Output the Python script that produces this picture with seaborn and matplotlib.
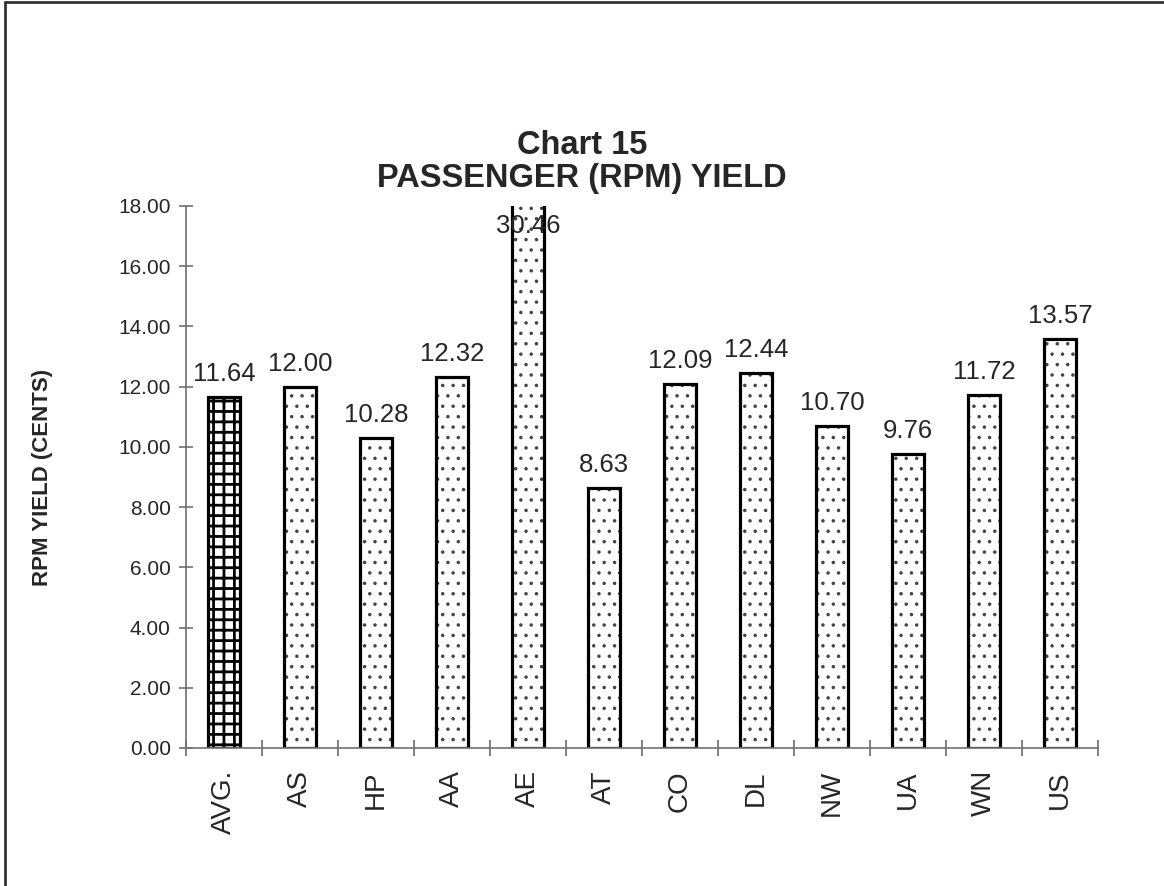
import numpy as np
import pandas as pd
import matplotlib
matplotlib.use('Agg')
import matplotlib.pyplot as plt
from matplotlib.lines import Line2D
import seaborn as sns

# chart data
carriers = ['AVG.', 'AS', 'HP', 'AA', 'AE', 'AT', 'CO', 'DL', 'NW', 'UA', 'WN', 'US']
yields = [11.64, 12.00, 10.28, 12.32, 30.46, 8.63, 12.09, 12.44, 10.70, 9.76, 11.72, 13.57]
y_ticks = [0, 2, 4, 6, 8, 10, 12, 14, 16, 18]

df = pd.DataFrame({'carrier': carriers, 'yield': yields})

# rendered at 125 dpi so the hatch spacing comes out close to the original;
# K converts sizes tuned for 100 dpi
DPI = 125
K = 100 / DPI

sns.set_style('white')
plt.rcParams['font.family'] = ['Liberation Sans', 'DejaVu Sans']
plt.rcParams['hatch.linewidth'] = 1.0 * K

fig = plt.figure(figsize=(1164 / DPI, 886 / DPI), dpi=DPI)
ax = fig.add_axes([0.1598, 0.1558, 0.7835, 0.6117])

# fill pattern layer (gray dots / grid), then black outline on top
sns.barplot(data=df, x='carrier', y='yield', color='white', edgecolor='#444444',
            linewidth=0, width=0.42, ax=ax, saturation=1)
for i, p in enumerate(ax.patches):
    if i == 0:
        p.set_hatch('++')
        p.set_edgecolor('black')
        if hasattr(p, 'set_hatch_linewidth'):
            p.set_hatch_linewidth(2.0 * K)
    else:
        p.set_hatch('..')
    p.set_facecolor('white')

sns.barplot(data=df, x='carrier', y='yield', fill=False, edgecolor='black',
            linewidth=2.3 * K, width=0.42, ax=ax)

ax.set_ylim(0, 18)
ax.set_xlim(-0.5, len(carriers) - 0.5)

# value labels
for i, v in enumerate(yields):
    if v > 18:
        ax.annotate(f'{v:.2f}', (i, 18), xytext=(0, -6 * K), textcoords='offset points',
                    ha='center', va='top', fontsize=18.5 * K)
    else:
        ax.annotate(f'{v:.2f}', (i, v), xytext=(0, 8 * K), textcoords='offset points',
                    ha='center', va='bottom', fontsize=18.5 * K)

# axes styling
for s in ['top', 'right']:
    ax.spines[s].set_visible(False)
for s in ['left', 'bottom']:
    ax.spines[s].set_color('#707070')
    ax.spines[s].set_linewidth(1.2 * K)

ax.set_yticks(y_ticks)
ax.set_yticklabels([f'{t:.2f}' for t in y_ticks], fontsize=15 * K)
ax.tick_params(axis='y', direction='inout', length=10 * K, width=1.2 * K, color='#707070',
               pad=6 * K, left=True)

ax.set_xticks(np.arange(-0.5, len(carriers)), minor=False)
ax.set_xticklabels([])
ax.set_xticks(np.arange(len(carriers)), minor=True)
ax.set_xticklabels(carriers, minor=True, rotation=90, fontsize=20 * K)
ax.tick_params(axis='x', which='major', direction='inout', length=12 * K, width=1.2 * K,
               color='#707070', bottom=True)
ax.tick_params(axis='x', which='minor', length=0, pad=16 * K)

ax.set_xlabel('')
ax.set_ylabel('RPM YIELD (CENTS)', fontsize=16 * K, fontweight='bold', labelpad=47 * K)

fig.text(0.5, 0.836, 'Chart 15', ha='center', va='center', fontsize=23.5 * K, fontweight='bold')
fig.text(0.5, 0.799, 'PASSENGER (RPM) YIELD', ha='center', va='center', fontsize=23.5 * K,
         fontweight='bold')

# outer frame (only left and top edges visible)
fig.add_artist(Line2D([0.0043, 0.0043], [0, 0.9975], transform=fig.transFigure, color='#333333', lw=2 * K))
fig.add_artist(Line2D([0.0043, 1], [0.9975, 0.9975], transform=fig.transFigure, color='#333333', lw=2 * K))

fig.savefig('out.png', dpi=DPI)
